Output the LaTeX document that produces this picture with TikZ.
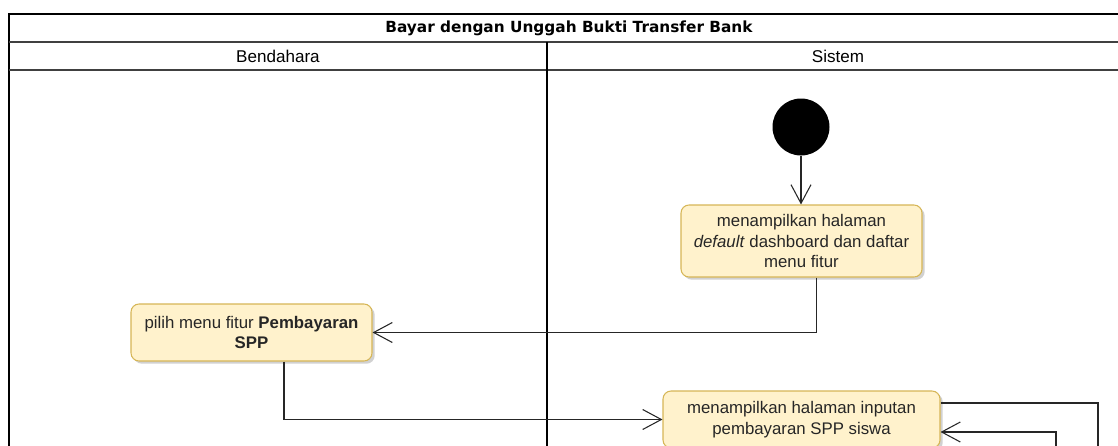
\documentclass[tikz,border=0pt]{standalone}
\usepackage{fontspec}
\setmainfont{Liberation Sans}
\newfontfamily\titlefont{DejaVu Sans}
\usetikzlibrary{arrows.meta,calc,shadows}
\definecolor{actfill}{HTML}{FFF2CC}
\definecolor{actline}{HTML}{D6B656}

\begin{document}
\begin{tikzpicture}[x=0.75pt,y=-0.75pt,>={Straight Barb[length=14pt,width=15pt]},
  act/.style={draw=actline,fill=actfill,rounded corners=6pt,line width=0.8pt,align=center,
    text=black!85,font=\fontsize{12.6}{15.4}\selectfont,inner sep=0pt,
    drop shadow={shadow xshift=2pt,shadow yshift=-2pt,opacity=0.3,fill=black!60}},
  flow/.style={draw=black!85,line width=0.8pt},
  lane/.style={line width=1.1pt}]
\path[use as bounding box,clip] (0,0) rectangle (1118,446);
% swimlanes
\draw[lane] (1129,14) -- (9,14) -- (9,460);
\draw[lane,black!75] (9,42) -- (1129,42) (9,70) -- (1129,70);
\draw[lane] (547,42) -- (547,460);
\node[font=\titlefont\bfseries\fontsize{11.5}{14}\selectfont] (judul) at (569,28) {Bayar dengan Unggah Bukti Transfer Bank};
\node[font=\fontsize{12.8}{15}\selectfont] (bendahara) at (278,56) {Bendahara};
\node[font=\fontsize{12.8}{15}\selectfont] (sistem) at (838,56) {Sistem};
% activities
\node[circle,fill=black,minimum size=42.75pt,inner sep=0pt] (mulai) at (801,127) {};
\node[act,minimum width=180.75pt,minimum height=54pt] (tampil) at (801.5,241)
  {menampilkan halaman\\\textit{default} dashboard dan daftar\\menu fitur};
\node[act,minimum width=180.75pt,minimum height=42.75pt] (pilih) at (251.5,332.5)
  {pilih menu fitur \textbf{Pembayaran}\\\textbf{SPP}};
\node[act,minimum width=207.75pt,minimum height=42.75pt] (inputan) at (801.5,419.5)
  {menampilkan halaman inputan\\pembayaran SPP siswa};
\coordinate (loopa) at (1098,460);
\coordinate (loopb) at (1056,460);
% flows
\draw[flow,->] (mulai.south) -- (mulai.south |- tampil.north);
\draw[flow,->] ($(tampil.south)+(15,0)$) |- (pilih.east);
\draw[flow,->] ($(pilih.south)+(32.5,0)$) |- (inputan.west);
\draw[flow] ($(inputan.east)+(0,-16.5)$) -| (loopa);
\draw[flow,->] (loopb) |- ($(inputan.east)+(0,12.5)$);
\end{tikzpicture}
\end{document}
